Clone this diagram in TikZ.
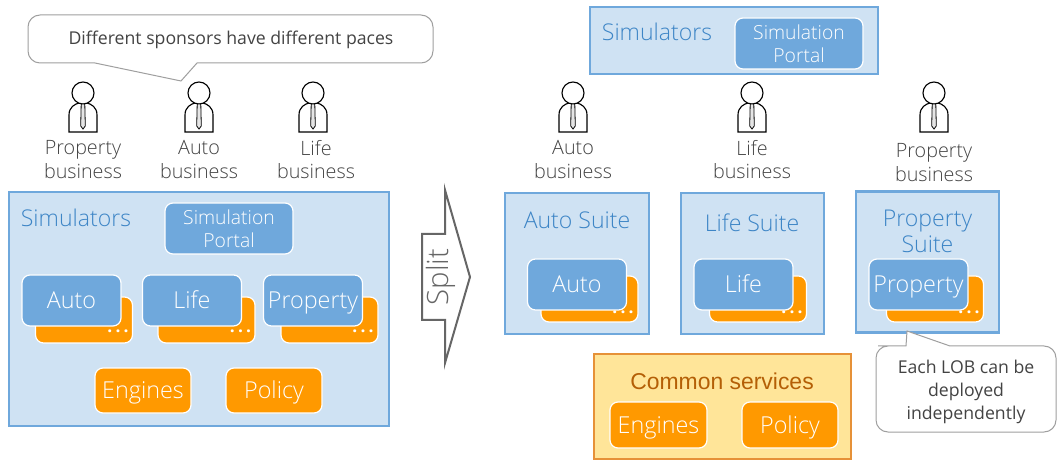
\documentclass[tikz,border=0pt]{standalone}
\usepackage{fontspec}
\setmainfont{Open Sans}[UprightFont=* Light,BoldFont=* Bold]
\newfontfamily\regfont{Open Sans}
\newfontfamily\liber{Liberation Sans}
\definecolor{bluefill}{HTML}{CFE2F3}
\definecolor{blueline}{HTML}{6FA8DC}
\definecolor{bluetext}{HTML}{3D85C6}
\definecolor{orangebox}{HTML}{FF9900}
\definecolor{yellowfill}{HTML}{FFE599}
\definecolor{orangeline}{HTML}{E69138}
\definecolor{browntext}{HTML}{B45F06}
\definecolor{greytext}{HTML}{434343}
\newcommand{\sz}[2]{\fontsize{#1}{#2}\selectfont}
\newcommand{\tridots}{.\kern2.4pt.\kern2.4pt.}
\tikzset{
  x=0.75pt,y=-0.75pt,
  panel/.style={draw=blueline,fill=bluefill,line width=1.6pt,inner sep=0pt},
  tile/.style={draw=white,line width=0.9pt,rounded corners=6pt,inner sep=0pt,text=white,align=center,font=\sz{17.5}{17.5}},
  bluetile/.style={tile,fill=blueline,text height=12.5pt,text depth=0pt},
  orangetile/.style={tile,fill=orangebox,text height=12.5pt,text depth=0pt},
  portaltile/.style={tile,fill=blueline,font=\sz{14.5}{17.2}},
  paneltext/.style={text=bluetext,inner sep=0pt,align=center,font=\sz{17.3}{20}},
  bizlabel/.style={text=greytext,inner sep=0pt,align=center,font=\sz{14.8}{17.6}},
  dotsmark/.style={text=white,inner sep=0pt,font=\bfseries\sz{13}{13}},
  balloon/.style={draw=gray!75,fill=white,line width=0.75pt},
  balloontext/.style={text=greytext,inner sep=0pt,align=center,font=\regfont\sz{13.25}{17.2}},
  man/.pic={
    \draw[black,line width=0.85pt,fill=white] (-14,39) -- (-14,22) .. controls (-14,14) and (-8,11) .. (-4,10) -- (4,10) .. controls (8,11) and (14,14) .. (14,22) -- (14,39) -- cycle;
    \draw[black,line width=0.85pt,fill=white] (0,0) circle (11);
    \draw[black,line width=0.6pt,fill=white!80!gray] (-1.8,11) -- (1.8,11) -- (2.3,33) -- (0,36) -- (-2.3,33) -- cycle;
  }
}
\begin{document}
\begin{tikzpicture}
\useasboundingbox (0,0) rectangle (1064,470);
% callout, left
\draw[balloon,rounded corners=9pt] (28,40) -- (28,15) -- (433,15) -- (433,63) -- (300,63) [sharp corners] -- (197,63) -- (181,81) -- (95,63) -- (60,63) [rounded corners=9pt] -- (28,63) -- cycle;
\node[balloontext] (calloutA) at (231,40) {Different sponsors have different paces};
% people, left
\pic at (83,93) {man};
\pic at (199,93) {man};
\pic at (313,93) {man};
\node[bizlabel] (bizP) at (83,159.5) {Property\\business};
\node[bizlabel] (bizA) at (199,159.5) {Auto\\business};
\node[bizlabel] (bizL) at (316,159.5) {Life\\business};
% left panel
\node[panel,minimum width=380*0.75pt,minimum height=234*0.75pt] (simL) at (199,309) {};
\node[paneltext] (simLt) at (76,218) {Simulators};
\node[portaltile,minimum width=128*0.75pt,minimum height=51*0.75pt] (portalL) at (229,228.5) {Simulation\\Portal};
\foreach \n/\ox/\bx/\t/\dx in {a/84/71.5/Auto/118,l/206.5/192/Life/240.5,p/329.5/313/Property/363}{
  \node[orangetile,minimum width=97*0.75pt,minimum height=46*0.75pt] (o\n) at (\ox,320) {};
  \node[dotsmark] (d\n) at (\dx,331) {\tridots};
  \node[bluetile,minimum width=99*0.75pt,minimum height=51*0.75pt] (b\n) at (\bx,300.5) {\t};
}
\node[orangetile,minimum width=96*0.75pt,minimum height=45*0.75pt] (engL) at (143,390.5) {Engines};
\node[orangetile,minimum width=96*0.75pt,minimum height=45*0.75pt] (polL) at (274,390.5) {Policy};
% split arrow
\draw[draw=black!60,fill=white,line width=1.5pt,line join=miter] (422,234) -- (445,234) -- (445,190) -- (470,277) -- (445,363) -- (445,320) -- (422,320) -- cycle;
\node[rotate=90,text=black!60,inner sep=0pt,font=\sz{22}{22}] (split) at (441,277) {Split};
% right top panel
\node[panel,minimum width=288*0.75pt,minimum height=67*0.75pt] (simR) at (734,40.5) {};
\node[paneltext] (simRt) at (657,32) {Simulators};
\node[portaltile,minimum width=128*0.75pt,minimum height=51*0.75pt] (portalR) at (799,43.5) {Simulation\\Portal};
% people, right
\pic at (573,93) {man};
\pic at (752,93) {man};
\pic at (934,93) {man};
\node[bizlabel] (bizA2) at (573,159.5) {Auto\\business};
\node[bizlabel] (bizL2) at (752,159.5) {Life\\business};
\node[bizlabel] (bizP2) at (934,162.5) {Property\\business};
% suites
\node[panel,minimum width=144*0.75pt,minimum height=141*0.75pt] (sA) at (577,263.5) {};
\node[panel,minimum width=143*0.75pt,minimum height=141*0.75pt] (sL) at (752.5,263.5) {};
\node[panel,minimum width=143*0.75pt,minimum height=141*0.75pt] (sP) at (927.5,262) {};
\node[paneltext] (sAt) at (577,220) {Auto Suite};
\node[paneltext] (sLt) at (752,223) {Life Suite};
\node[paneltext] (sPt) at (927.5,231.5) {Property\\Suite};
\node[orangetile,minimum width=97*0.75pt,minimum height=46*0.75pt] (oA) at (589.5,299) {};
\node[dotsmark] (dA) at (623,312) {\tridots};
\node[bluetile,minimum width=99*0.75pt,minimum height=51*0.75pt] (bA) at (577,284.5) {Auto};
\node[orangetile,minimum width=97*0.75pt,minimum height=46*0.75pt] (oL) at (758,299) {};
\node[dotsmark] (dL) at (792,312) {\tridots};
\node[bluetile,minimum width=99*0.75pt,minimum height=51*0.75pt] (bL) at (743.5,284.5) {Life};
\node[orangetile,minimum width=97*0.75pt,minimum height=46*0.75pt] (oP) at (935,299) {};
\node[dotsmark] (dP) at (969,312) {\tridots};
\node[bluetile,minimum width=99*0.75pt,minimum height=51*0.75pt] (bP) at (918.5,284.5) {Property};
% common services
\node[draw=orangeline,fill=yellowfill,line width=1.6pt,inner sep=0pt,minimum width=257*0.75pt,minimum height=105*0.75pt] (common) at (722.5,406.5) {};
\node[text=browntext,inner sep=0pt,font=\liber\sz{17.2}{17.2}] (commont) at (722,381) {Common services};
\node[orangetile,minimum width=97*0.75pt,minimum height=46*0.75pt] (engR) at (658.5,425) {Engines};
\node[orangetile,minimum width=96*0.75pt,minimum height=46*0.75pt] (polR) at (790,425) {Policy};
% callout, right
\draw[balloon,rounded corners=9pt] (1056,390) -- (1056,432) -- (876,432) -- (876,346) -- (890,346) [sharp corners] -- (906,346) -- (907,331) -- (950,346) -- (1000,346) [rounded corners=9pt] -- (1056,346) -- cycle;
\node[balloontext] (calloutB) at (966,392) {Each LOB can be\\deployed\\independently};
\end{tikzpicture}
\end{document}
